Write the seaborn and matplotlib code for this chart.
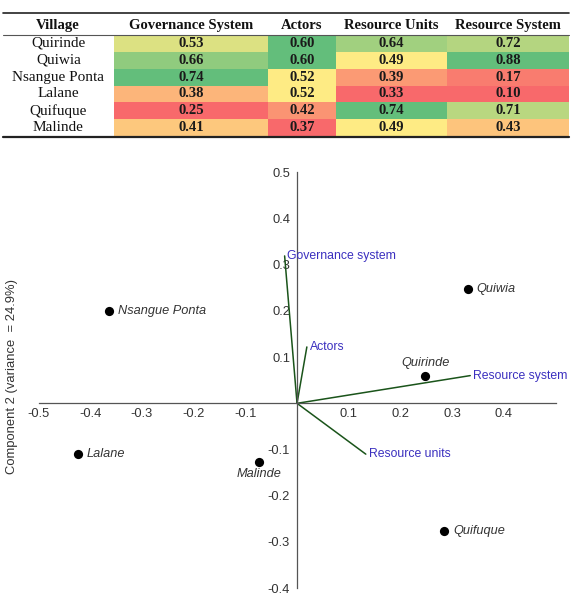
#Village SES table (heat map) + PCA biplot
import pandas as pd
import matplotlib
matplotlib.use("Agg")
import matplotlib.pyplot as plt
import seaborn as sns
from matplotlib.colors import LinearSegmentedColormap, TwoSlopeNorm
from matplotlib.lines import Line2D

# table values
villages = ["Quirinde", "Quiwia", "Nsangue Ponta", "Lalane", "Quifuque", "Malinde"]
dimensions = ["Governance System", "Actors", "Resource Units", "Resource System"]
governance = [0.53, 0.66, 0.74, 0.38, 0.25, 0.41]
actors = [0.60, 0.60, 0.52, 0.52, 0.42, 0.37]
resource_units = [0.64, 0.49, 0.39, 0.33, 0.74, 0.49]
resource_system = [0.72, 0.88, 0.17, 0.10, 0.71, 0.43]

# PCA scores of the villages
pc1 = [0.248, 0.330, -0.363, -0.424, 0.285, -0.074]
pc2 = [0.060, 0.247, 0.200, -0.109, -0.277, -0.126]

# PCA loadings
loading_names = ["Governance system", "Actors", "Resource system", "Resource units"]
load1 = [-0.024, 0.019, 0.335, 0.133]
load2 = [0.319, 0.122, 0.060, -0.110]

x_ticks = [-0.5, -0.4, -0.3, -0.2, -0.1, 0.1, 0.2, 0.3, 0.4]
y_ticks = [-0.4, -0.3, -0.2, -0.1, 0.1, 0.2, 0.3, 0.4, 0.5]
y_title = "Component 2 (variance  = 24.9%)"

sns.set_theme(style="white")
plt.rcParams["font.family"] = ["Liberation Sans", "DejaVu Sans"]
plt.rcParams["axes.unicode_minus"] = False

W, H = 579, 605
fig = plt.figure(figsize=(W / 100, H / 100), dpi=100)


def box(x0, y0, x1, y1):
    # pixel box (top-left origin) -> figure fraction
    return [x0 / W, 1 - y1 / H, (x1 - x0) / W, (y1 - y0) / H]


# ---- table as per-column heat maps (Excel style red-yellow-green) ----
table = pd.DataFrame(
    dict(zip(dimensions, [governance, actors, resource_units, resource_system])),
    index=villages,
)
excel = LinearSegmentedColormap.from_list("excel", ["#F8696B", "#FFEB84", "#63BE7B"])
serif = ["Liberation Serif", "DejaVu Serif"]
edges = [114, 268, 336, 447, 569]

for i, col in enumerate(dimensions):
    ax = fig.add_axes(box(edges[i], 35, edges[i + 1], 136))
    vals = table[[col]]
    norm = TwoSlopeNorm(vcenter=vals[col].median(), vmin=vals[col].min(), vmax=vals[col].max())
    sns.heatmap(
        vals, ax=ax, cmap=excel, norm=norm, cbar=False,
        annot=True, fmt=".2f",
        annot_kws={"color": "#1a1a1a", "fontweight": "bold", "family": serif, "fontsize": 10.5},
        xticklabels=True, yticklabels=(i == 0),
    )
    ax.xaxis.tick_top()
    ax.tick_params(axis="both", length=0)
    ax.tick_params(axis="x", pad=6.8)
    for t in ax.get_xticklabels():
        t.set(fontweight="bold", family=serif, fontsize=10.5, va="center", color="#111")
    ax.set_xlabel("")
    ax.set_ylabel("")
    if i == 0:
        ax.tick_params(axis="y", pad=40)
        for t in ax.get_yticklabels():
            t.set(rotation=0, ha="center", family=serif, fontsize=11, color="#111")

fig.text(58 / W, 1 - 25.5 / H, "Village", ha="center", va="center",
         fontweight="bold", family=serif, fontsize=10.5, color="#111")
fig.add_artist(Line2D([3 / W, 569 / W], [1 - 13.3 / H] * 2, transform=fig.transFigure, color="#222", lw=1.2))
fig.add_artist(Line2D([3 / W, 569 / W], [1 - 34.8 / H] * 2, transform=fig.transFigure, color="#555", lw=0.8))
fig.add_artist(Line2D([3 / W, 569 / W], [1 - 136.6 / H] * 2, transform=fig.transFigure, color="#222", lw=1.6))

# ---- PCA biplot ----
ax = fig.add_axes(box(28.2, 149.2, 576.2, 602.0))
ax.set_xlim(-0.52, 0.54)
ax.set_ylim(-0.43, 0.55)

blue = "#3a2fbf"
for name, lx, ly in zip(loading_names, load1, load2):
    ax.plot([0, lx], [0, ly], color="#1a541a", lw=1.1, zorder=2)
    ax.annotate(name, (lx, ly), xytext=(2, 0), textcoords="offset points",
                ha="left", va="center", color=blue, fontsize=8.8)

sns.scatterplot(x=pc1, y=pc2, ax=ax, color="black", s=44, linewidth=0, legend=False, zorder=3)

label_place = {"Quirinde": ((0, 9.4), "center"), "Malinde": ((0, -9.2), "center")}
for name, x, y in zip(villages, pc1, pc2):
    offset, ha = label_place.get(name, ((6.5, 0), "left"))
    ax.annotate(name, (x, y), xytext=offset, textcoords="offset points",
                ha=ha, va="center", style="italic", color="#333", fontsize=9.2)

sns.despine(ax=ax, top=True, right=True)
ax.spines["left"].set_position(("data", 0))
ax.spines["bottom"].set_position(("data", 0))
ax.spines["bottom"].set_bounds(-0.5, 0.5)
ax.spines["left"].set_bounds(-0.4, 0.5)
for s in ["left", "bottom"]:
    ax.spines[s].set_color("#555")
    ax.spines[s].set_linewidth(0.9)
ax.set_xticks(x_ticks)
ax.set_xticklabels([f"{v:.1f}" for v in x_ticks])
ax.set_yticks(y_ticks)
ax.set_yticklabels([f"{v:.1f}" for v in y_ticks])
ax.tick_params(axis="x", direction="out", length=3, pad=0.5, labelsize=9.3, colors="#333", width=0.8)
ax.tick_params(axis="y", direction="out", length=4, pad=1, labelsize=9.3, colors="#333", width=0.8)

fig.text(12 / W, 1 - 377 / H, y_title, rotation=90, ha="center", va="center",
         fontsize=9.4, color="#333")

fig.savefig("out.png", dpi=100)
